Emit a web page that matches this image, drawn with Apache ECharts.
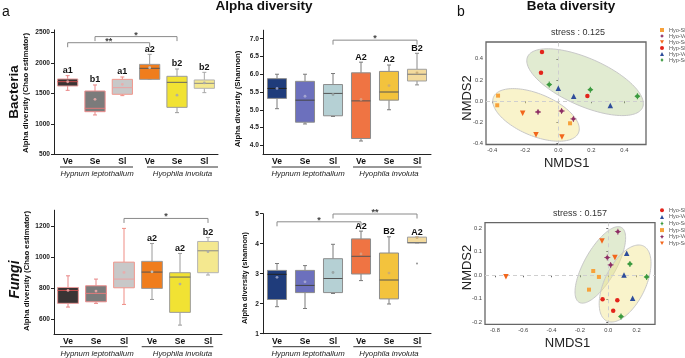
<!DOCTYPE html>
<html><head><meta charset="utf-8">
<script src="https://cdn.jsdelivr.net/npm/echarts@6/dist/echarts.min.js"></script>
<style>html,body{margin:0;padding:0;background:#fff}#c{width:685px;height:358px}</style>
</head><body><div id="c"></div>
<script>
// ---------- DATA ----------
const categories = ['Ve','Se','Sl','Ve','Se','Sl'];
const hostGroups = ['Hypnum leptothallum','Hyophila involuta'];

// box stats: [min, Q1, median, Q3, max]
const bacteriaChao = [[1549,1620,1691,1735,1790],[1145,1199,1254,1538,1637],[1462,1484,1593,1729,1768],[1729,1729,1910,1975,2139],[1183,1270,1680,1779,1899],[1511,1582,1664,1719,1844]];
const bacteriaChaoMean = [1690,1402,1648,1921,1470,1670];
const bacteriaChaoLetters = ['a1','b1','a1','a2','b2','b2'];
const bacteriaChaoSig = [[0,3,2330,'**'],[1,4,2430,'*']];
const bacteriaChaoTicks = [500,1000,1500,2000,2500];

const bacteriaShannon = [[5.03,5.32,5.60,5.875,6.0],[4.6,4.65,5.27,5.8,6.0],[4.81,4.83,5.46,5.71,6.02],[4.12,4.19,5.25,6.04,6.34],[5.0,5.27,5.5,6.08,6.26],[5.7,5.81,6.0,6.14,6.59]];
const bacteriaShannonMean = [5.6,5.38,5.43,5.29,5.68,6.04];
const bacteriaShannonLetters = ['','','','A2','A2','B2'];
const bacteriaShannonSig = [[2,5,6.96,'*']];
const bacteriaShannonTicks = [4.0,4.5,5.0,5.5,6.0,6.5,7.0];

const fungiChao = [[677,701,784,803,878],[701,711,765,814,857],[694,801,857,966,1183],[726,797,902,971,1086],[561,643,870,898,1022],[883,898,1039,1099,1125]];
const fungiChaoMean = [784,780,900,904,825,1033];
const fungiChaoLetters = ['','','','a2','a2','b2'];
const fungiChaoSig = [[2,5,1247,'*']];
const fungiChaoTicks = [600,800,1000,1200];

const fungiShannon = [[1.9,2.14,2.98,3.11,3.34],[1.84,2.37,2.61,3.11,3.27],[2.34,2.37,2.84,3.5,3.98],[2.77,2.99,3.58,4.16,4.42],[1.99,2.16,2.79,3.69,4.23],[4.02,4.02,4.04,4.22,4.22]];
const fungiShannonMean = [2.88,2.73,3.04,3.66,3.02,4.2];
const fungiShannonOutliers = [[5,3.34]];
const fungiShannonLetters = ['','','','A2','B2','A2'];
const fungiShannonSig = [[0,3,4.73,'*'],[2,5,4.99,'**']];
const fungiShannonTicks = [1,2,3,4,5];

// NMDS (bacteria)
const bacHyoSl = [[-0.365,0.053],[-0.370,-0.038],[0.071,-0.208]];
const bacHyoVe = [[-0.123,-0.101],[0.020,-0.092],[0.091,-0.167]];
const bacHyoSe = [[-0.216,-0.113],[-0.135,-0.315],[0.022,-0.337]];
const bacHypSl = [[-0.099,0.465],[-0.105,0.270],[0.176,0.050]];
const bacHypVe = [[0.0,0.123],[0.093,0.047],[0.315,-0.041]];
const bacHypSe = [[-0.055,0.157],[0.194,0.109],[0.479,0.047]];
// ellipse: [cx, cy, ux, uy, vx, vy]  point = c + u cos t + v sin t
const bacEllipseHyo = [-0.135,-0.129,0.262,-0.131,0,0.211];
const bacEllipseHyp = [0.162,0.180,0.353,-0.202,0,0.242];
const bacStress = 0.125;
const bacNmdsXTicks = [-0.4,-0.2,0,0.2,0.4];
const bacNmdsYTicks = [-0.4,-0.2,0,0.2,0.4];

// NMDS (fungi)
const funHyoSl = [[-0.040,-0.102],[0.064,-0.106],[0.035,-0.151]];
const funHyoVe = [[0.130,0.093],[0.111,0.001],[0.172,-0.098]];
const funHyoSe = [[0.153,0.048],[0.271,-0.007],[0.090,-0.175]];
const funHypSl = [[-0.106,0.018],[-0.066,-0.007],[-0.136,-0.061]];
const funHypVe = [[0.068,0.185],[-0.007,0.075],[0.017,0.044]];
const funHypSe = [[-0.722,-0.006],[-0.044,0.145],[0.047,0.075]];
const funEllipseHyp = [-0.056,0.044,0.1785,0.1145,0,0.115];
const funEllipseHyo = [0.119,-0.035,0.183,0.086,0,0.139];
const funStress = 0.157;
const funNmdsXTicks = [-0.8,-0.6,-0.4,-0.2,0,0.2];
const funNmdsYTicks = [-0.2,-0.1,0,0.1,0.2];

// ---------- STYLE ----------
const FF = 'Liberation Sans, Arial, sans-serif';
const chaoPal = {
  fill: ['#3a3434','#7b7b7b','#c8c8c8','#f07d1d','#f1e233','#f4e88f'],
  border: ['#e79a9a','#ec8c8c','#f0968c','#9a9a9a','#9c9c9c','#b3b3b3'],
  whisker: ['#e88585','#e88585','#ef8d85','#9a9a9a','#9a9a9a','#a8a8a8'],
  median: ['#c94c4c','#e07a7a','#eba3a3','#555555','#666666','#8a8a8a'],
  mean: ['rgba(235,160,160,0.9)','rgba(235,170,170,0.9)','rgba(235,170,170,0.9)','rgba(200,200,200,0.9)','rgba(170,170,170,0.9)','rgba(170,170,170,0.9)'],
  ratio: 0.74
};
const shanPal = {
  fill: ['#1f3c7b','#6c70bd','#b5d0d4','#ef7443','#f3c33d','#f3da9d'],
  border: ['#8c8c8c','#8c8c8c','#8c8c8c','#8c8c8c','#8c8c8c','#a0a0a0'],
  whisker: ['#7a7a7a','#7a7a7a','#7a7a7a','#7a7a7a','#7a7a7a','#8a8a8a'],
  median: ['#222222','#444444','#555555','#555555','#555555','#777777'],
  mean: ['rgba(150,160,200,0.9)','rgba(170,170,210,0.9)','rgba(150,160,160,0.9)','rgba(220,160,130,0.9)','rgba(200,170,120,0.9)','rgba(200,170,120,0.9)'],
  ratio: 0.68
};

const C = {
  orange:'#f7a13a', purple:'#8e2f65', redor:'#f2661c', red:'#e3241b', blue:'#2e4d9b', green:'#3b9a3f'
};
const SYM = {
  down:'path://M0,0L10,0L5,9Z',
  diamondBar:'path://M5,1L9,5L5,9L1,5Z M4.3,0H5.7V10H4.3Z',
  diamondCross:'path://M5,1L9,5L5,9L1,5Z M4.3,0H5.7V10H4.3Z M0,4.3H10V5.7H0Z'
};

// ---------- HELPERS ----------
function boxSeries(gi, stats, means, letters, pal){
  return {
    type:'custom', xAxisIndex:gi, yAxisIndex:gi, z:3, clip:false, silent:true,
    data: stats.map((s,i)=>[i].concat(s,[means[i]])),
    renderItem:function(params, api){
      const i = params.dataIndex;
      const c = v => api.coord([i, v]);
      const band = api.size([1,0])[0];
      const w = band*pal.ratio;
      const x = c(api.value(1))[0];
      const yMin=c(api.value(1))[1], yQ1=c(api.value(2))[1], yMed=c(api.value(3))[1],
            yQ3=c(api.value(4))[1], yMax=c(api.value(5))[1], yMean=c(api.value(6))[1];
      const wc = pal.whisker[i], cap = 2;
      const ch = [
        {type:'line', shape:{x1:x,y1:yMax,x2:x,y2:yQ3}, style:{stroke:wc,lineWidth:1}},
        {type:'line', shape:{x1:x,y1:yQ1,x2:x,y2:yMin}, style:{stroke:wc,lineWidth:1}},
        {type:'line', shape:{x1:x-cap,y1:yMax,x2:x+cap,y2:yMax}, style:{stroke:wc,lineWidth:1}},
        {type:'line', shape:{x1:x-cap,y1:yMin,x2:x+cap,y2:yMin}, style:{stroke:wc,lineWidth:1}},
        {type:'rect', shape:{x:x-w/2,y:yQ3,width:w,height:Math.max(yQ1-yQ3,1)}, style:{fill:pal.fill[i],stroke:pal.border[i],lineWidth:1}},
        {type:'line', shape:{x1:x-w/2,y1:yMed,x2:x+w/2,y2:yMed}, style:{stroke:pal.median[i],lineWidth:1}},
        {type:'circle', shape:{cx:x,cy:yMean,r:1.4}, style:{fill:pal.mean[i]}}
      ];
      if (letters[i]) ch.push({type:'text', x:x, y:yMax-0.5, style:{text:letters[i], fontSize:9, fontWeight:'bold', fontFamily:FF, fill:'#111', align:'center', verticalAlign:'bottom'}});
      return {type:'group', children:ch};
    }
  };
}
function sigSeries(gi, sig){
  return {
    type:'custom', xAxisIndex:gi, yAxisIndex:gi, z:4, clip:false, silent:true,
    data: sig.map(s=>[s[0], s[2], s[1]]),
    renderItem:function(params, api){
      const s = sig[params.dataIndex];
      const p1 = api.coord([api.value(0), api.value(1)]);
      const p2 = api.coord([api.value(2), api.value(1)]);
      const t = 4.5;
      return {type:'group', children:[
        {type:'polyline', shape:{points:[[p1[0],p1[1]+t],[p1[0],p1[1]],[p2[0],p1[1]],[p2[0],p1[1]+t]]}, style:{stroke:'#8a8a8a',lineWidth:1,fill:null}},
        {type:'text', x:(p1[0]+p2[0])/2, y:p1[1]-1.5, style:{text:s[3], fontSize:9, fontWeight:'bold', fontFamily:FF, fill:'#444', align:'center', verticalAlign:'middle'}}
      ]};
    }
  };
}
function ellipseSeries(gi, e, fill){
  return {
    type:'custom', xAxisIndex:gi, yAxisIndex:gi, z:1, clip:true, silent:true,
    data:[e],
    renderItem:function(params, api){
      const pts=[];
      for(let k=0;k<120;k++){
        const t=k/120*2*Math.PI;
        pts.push(api.coord([e[0]+e[2]*Math.cos(t)+e[4]*Math.sin(t), e[1]+e[3]*Math.cos(t)+e[5]*Math.sin(t)]));
      }
      return {type:'polygon', shape:{points:pts}, style:{fill:fill, stroke:'#c8c8c8', lineWidth:1}};
    }
  };
}
function pts(gi, name, data, symbol, size, color){
  return {type:'scatter', name:name, xAxisIndex:gi, yAxisIndex:gi, data:data, symbol:symbol, symbolSize:size, itemStyle:{color:color, opacity:1}, z:5, silent:true};
}
function zeroLines(gi){
  return {type:'scatter', xAxisIndex:gi, yAxisIndex:gi, data:[], z:2, silent:true,
    markLine:{silent:true, symbol:'none', label:{show:false}, lineStyle:{color:'#cfcfcf', type:[4,3], width:1},
      data:[{xAxis:0},{yAxis:0}], animation:false}};
}
function catX(gi){
  return {type:'category', gridIndex:gi, data:categories, boundaryGap:true,
    axisLine:{lineStyle:{color:'#222',width:1}},
    axisTick:{alignWithLabel:true, length:3, lineStyle:{color:'#222'}},
    axisLabel:{fontSize:8.5, fontWeight:'bold', color:'#111', margin:3, fontFamily:FF}};
}
function valY(gi, min, max, ticks, fmt){
  return {type:'value', gridIndex:gi, min:min, max:max,
    axisLine:{show:true, lineStyle:{color:'#222'}},
    axisTick:{show:true, length:3, customValues:ticks, lineStyle:{color:'#222'}},
    axisLabel:{customValues:ticks, fontSize:6.6, fontWeight:'bold', color:'#222', margin:4, fontFamily:FF, formatter:fmt},
    splitLine:{show:false}};
}
function nmdsAxis(gi, dim, min, max, ticks){
  return {type:'value', gridIndex:gi, min:min, max:max,
    axisLine:{show:false},
    axisTick:{show:true, length:2, customValues:ticks, lineStyle:{color:'#666'}},
    axisLabel:{customValues:ticks, fontSize:5.8, color:'#444', margin:3, fontFamily:FF, formatter:v=>v.toFixed(1)},
    splitLine:{show:false}};
}
function txt(x,y,text,size,opts){
  opts = opts||{};
  return {type:'text', x:x, y:y, rotation:opts.rot||0, silent:true,
    style:{text:text, fontSize:size, fontWeight:opts.w||'normal', fontStyle:opts.it?'italic':'normal', fontFamily:FF, fill:opts.c||'#111', align:'center', verticalAlign:'middle'}};
}
function hline(x1,x2,y){
  return {type:'line', silent:true, shape:{x1:x1,y1:y,x2:x2,y2:y}, style:{stroke:'#333',lineWidth:1}};
}

// ---------- CHART ----------
const grids = [
  {left:54, top:29.9, width:164, height:124.4},
  {left:263, top:30.2, width:168, height:123.6},
  {left:486, top:42, width:160, height:102.5, show:true, borderColor:'#666', borderWidth:1.3},
  {left:54, top:210.2, width:168, height:124.4},
  {left:263, top:213.7, width:168, height:120},
  {left:485, top:222.7, width:170, height:101.6, show:true, borderColor:'#666', borderWidth:1.3}
].map(g=>Object.assign({outerBoundsMode:'none', containLabel:false}, g));

const topNames = ['Hyo-Sl','Hyo-Ve','Hyo-Se','Hyp-Sl','Hyp-Ve','Hyp-Se'];
const botNames = topNames.map(n=>n+' ');

const option = {
  animation:false,
  backgroundColor:'#fff',
  textStyle:{fontFamily:FF},
  grid: grids,
  xAxis: [catX(0), catX(1), nmdsAxis(2,'x',-0.438,0.531,bacNmdsXTicks), catX(3), catX(4), nmdsAxis(5,'x',-0.870,0.330,funNmdsXTicks)],
  yAxis: [
    valY(0,500,2540,bacteriaChaoTicks, v=>String(v)),
    valY(1,3.76,7.24,bacteriaShannonTicks, v=>v.toFixed(1)),
    nmdsAxis(2,'y',-0.408,0.559,bacNmdsYTicks),
    valY(3,500,1300,fungiChaoTicks, v=>String(v)),
    valY(4,1,5,fungiShannonTicks, v=>String(v)),
    nmdsAxis(5,'y',-0.208,0.223,funNmdsYTicks)
  ],
  legend: [
    {data:topNames, orient:'vertical', left:660, top:27, itemWidth:4, itemHeight:4, itemGap:0, padding:0, selectedMode:false,
     textStyle:{fontSize:5.5, color:'#555', lineHeight:5.5}},
    {data:botNames, orient:'vertical', left:660, top:207, itemWidth:4, itemHeight:4, itemGap:0, padding:0, selectedMode:false,
     textStyle:{fontSize:5.5, color:'#555', lineHeight:6.6}}
  ],
  series: [
    boxSeries(0, bacteriaChao, bacteriaChaoMean, bacteriaChaoLetters, chaoPal),
    sigSeries(0, bacteriaChaoSig),
    boxSeries(1, bacteriaShannon, bacteriaShannonMean, bacteriaShannonLetters, shanPal),
    sigSeries(1, bacteriaShannonSig),
    boxSeries(3, fungiChao, fungiChaoMean, fungiChaoLetters, chaoPal),
    sigSeries(3, fungiChaoSig),
    boxSeries(4, fungiShannon, fungiShannonMean, fungiShannonLetters, shanPal),
    sigSeries(4, fungiShannonSig),
    {type:'scatter', xAxisIndex:4, yAxisIndex:4, data:fungiShannonOutliers, symbol:'circle', symbolSize:2, itemStyle:{color:'#777'}, z:5, silent:true},

    ellipseSeries(2, bacEllipseHyo, 'rgba(242,228,140,0.45)'),
    ellipseSeries(2, bacEllipseHyp, 'rgba(180,205,140,0.4)'),
    zeroLines(2),
    pts(2,'Hyo-Sl',bacHyoSl,'rect',4,C.orange),
    pts(2,'Hyo-Ve',bacHyoVe,SYM.diamondCross,6,C.purple),
    pts(2,'Hyo-Se',bacHyoSe,SYM.down,5.5,C.redor),
    pts(2,'Hyp-Sl',bacHypSl,'circle',4.5,C.red),
    pts(2,'Hyp-Ve',bacHypVe,'triangle',5.5,C.blue),
    pts(2,'Hyp-Se',bacHypSe,SYM.diamondBar,6,C.green),

    ellipseSeries(5, funEllipseHyp, 'rgba(180,205,140,0.4)'),
    ellipseSeries(5, funEllipseHyo, 'rgba(242,228,140,0.45)'),
    zeroLines(5),
    pts(5,'Hyo-Sl ',funHyoSl,'circle',4.5,C.red),
    pts(5,'Hyo-Ve ',funHyoVe,'triangle',5.5,C.blue),
    pts(5,'Hyo-Se ',funHyoSe,SYM.diamondBar,6,C.green),
    pts(5,'Hyp-Sl ',funHypSl,'rect',4,C.orange),
    pts(5,'Hyp-Ve ',funHypVe,SYM.diamondCross,6,C.purple),
    pts(5,'Hyp-Se ',funHypSe,SYM.down,5.5,C.redor)
  ],
  graphic: [
    txt(6,12,'a',14),
    txt(461,12,'b',14),
    txt(264,6,'Alpha diversity',13.5,{w:'bold'}),
    txt(571,6,'Beta diversity',13.5,{w:'bold'}),
    txt(14.5,92,'Bacteria',13.5,{w:'bold',rot:Math.PI/2}),
    txt(15.5,279.5,'Fungi',14,{w:'bold',it:true,rot:Math.PI/2}),
    txt(25.5,93,'Alpha diversity (Chao estimator)',7.8,{w:'bold',rot:Math.PI/2}),
    txt(238,99,'Alpha diversity (Shannon)',7.8,{w:'bold',rot:Math.PI/2}),
    txt(27,271,'Alpha diversity (Chao estimator)',7.8,{w:'bold',rot:Math.PI/2}),
    txt(245,278,'Alpha diversity (shannon)',7.5,{w:'bold',rot:Math.PI/2}),
    // group labels
    hline(60,133,167), txt(97,173.5,hostGroups[0],7.8,{it:true,c:'#222'}),
    hline(147,218,167), txt(182.5,173.5,hostGroups[1],7.8,{it:true,c:'#222'}),
    hline(271.7,340,167), txt(308,173.5,hostGroups[0],7.8,{it:true,c:'#222'}),
    hline(353,421.7,167), txt(389,173.5,hostGroups[1],7.8,{it:true,c:'#222'}),
    hline(60,127.7,346.7), txt(97,354,hostGroups[0],7.8,{it:true,c:'#222'}),
    hline(141.7,213.3,346.7), txt(182.5,354,hostGroups[1],7.8,{it:true,c:'#222'}),
    hline(272.7,340,346.7), txt(308,354,hostGroups[0],7.8,{it:true,c:'#222'}),
    hline(353.3,421.7,346.7), txt(389,354,hostGroups[1],7.8,{it:true,c:'#222'}),
    // NMDS labels
    txt(578,33,'stress : ' + bacStress.toFixed(3),9,{c:'#333'}),
    txt(580,214,'stress : ' + funStress.toFixed(3),9,{c:'#333'}),
    txt(566.7,163.3,'NMDS1',13,{c:'#222'}),
    txt(467,98,'NMDS2',13,{c:'#222',rot:Math.PI/2}),
    txt(567.5,343.3,'NMDS1',13,{c:'#222'}),
    txt(467,267.5,'NMDS2',13,{c:'#222',rot:Math.PI/2})
  ]
};
const chart = echarts.init(document.getElementById('c'), null, {renderer:'canvas', width:685, height:358});
chart.setOption(option);
</script>
</body></html>
